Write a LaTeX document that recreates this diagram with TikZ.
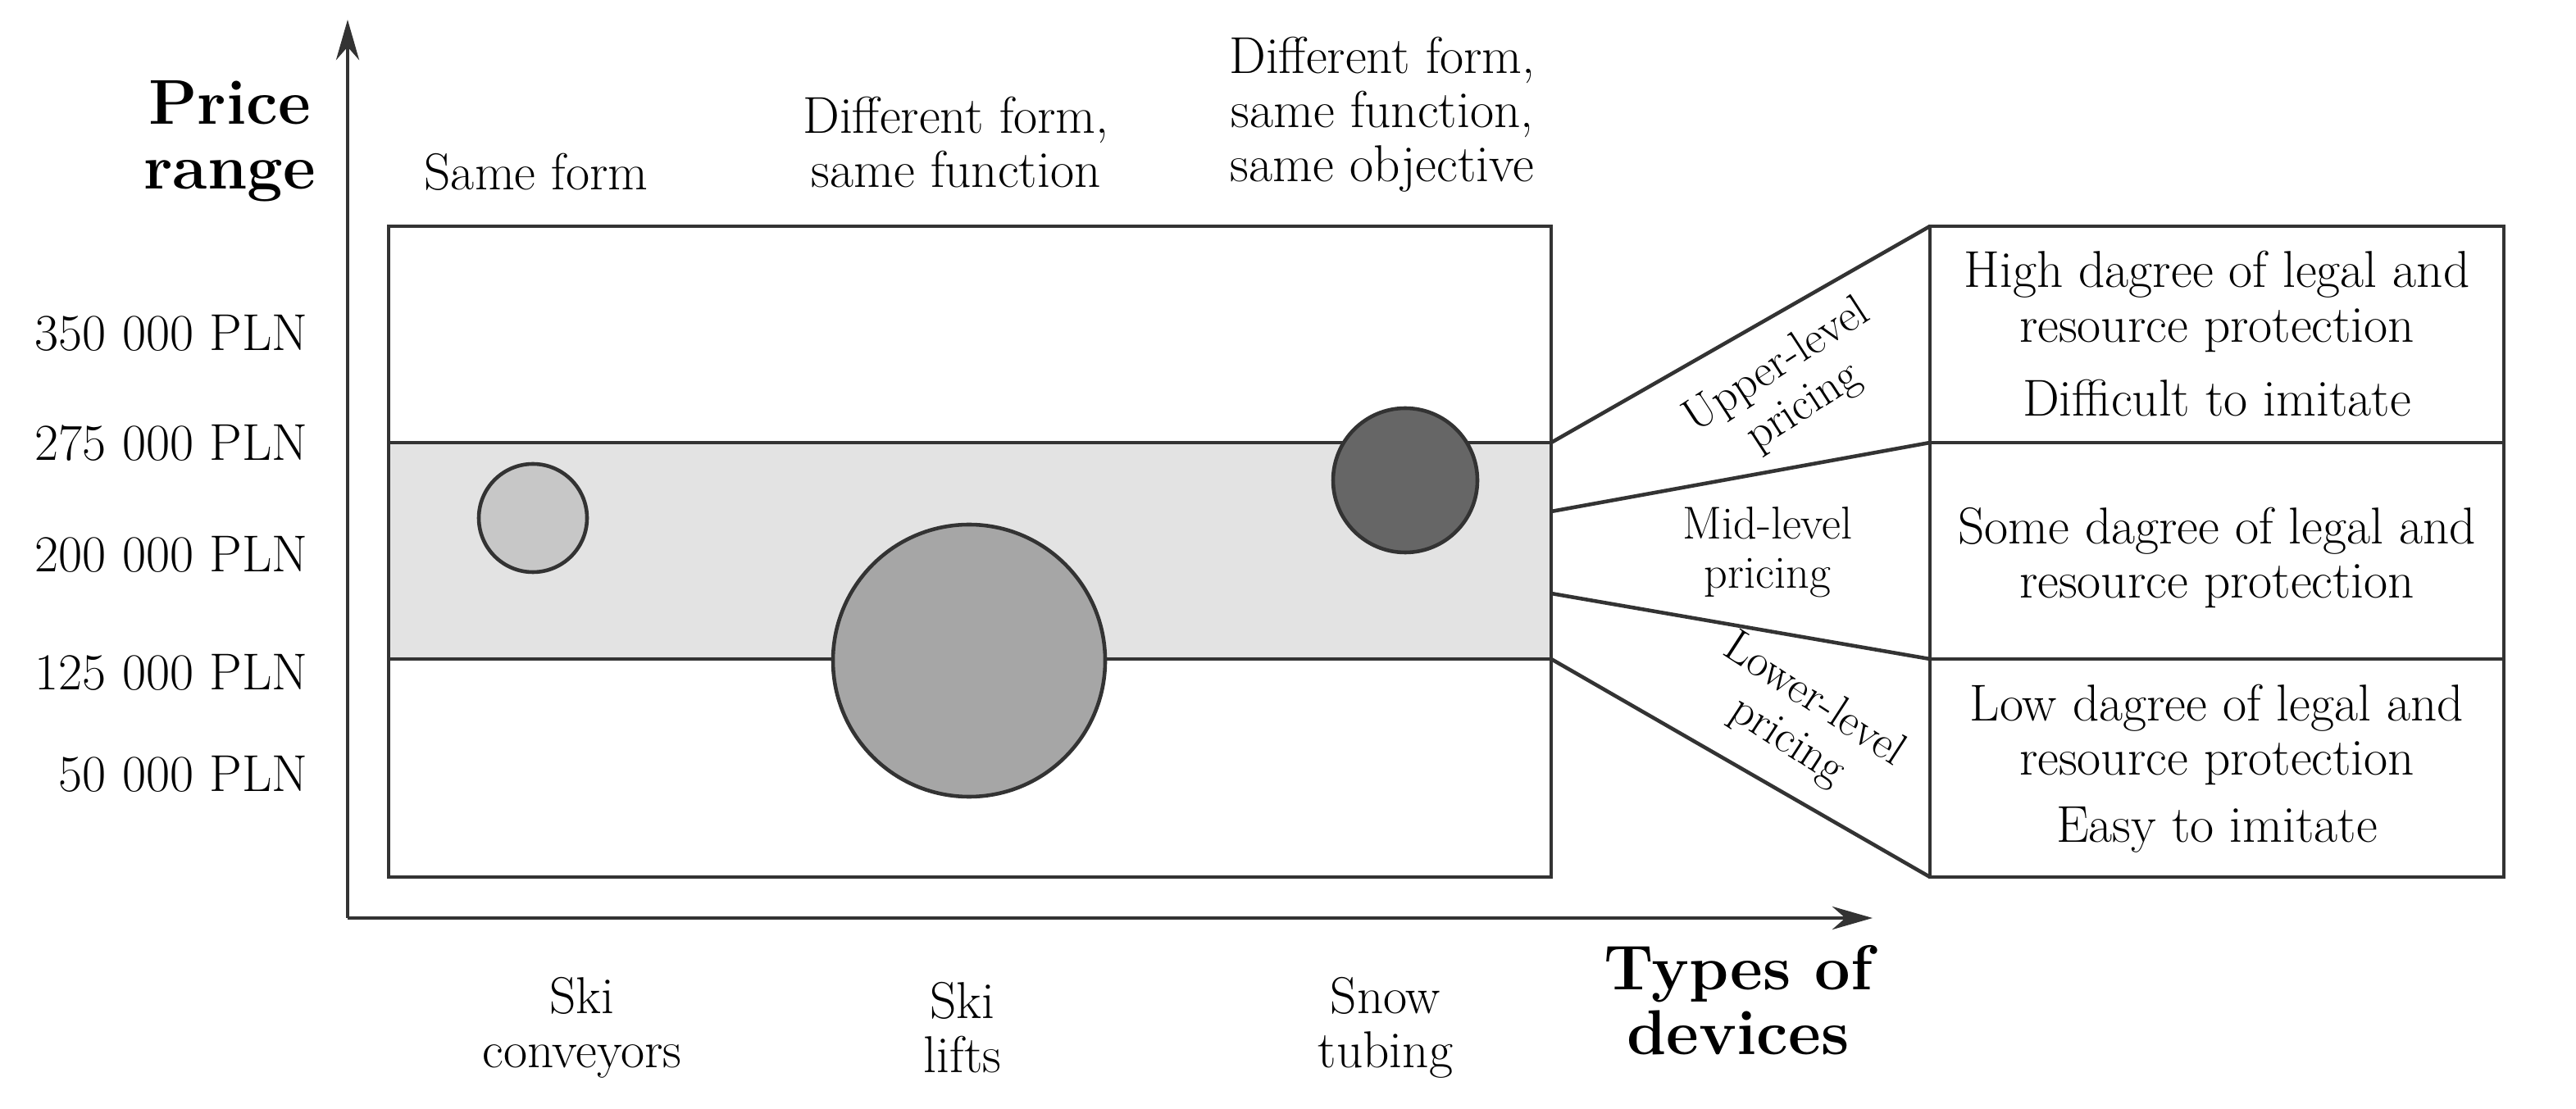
\documentclass[tikz,border=0pt]{standalone}
\usetikzlibrary{arrows.meta}
\begin{document}
\begin{tikzpicture}[x=0.02cm,y=-0.02cm,
  txt/.style={font=\fontsize{18}{18.8}\selectfont,align=center,inner sep=0pt},
  rtxt/.style={font=\fontsize{16}{17}\selectfont,align=center,inner sep=0pt},
  ttl/.style={font=\fontsize{22}{22.5}\selectfont\bfseries,align=center,inner sep=0pt},
  ln/.style={draw=black!80,line width=1.3pt},
  circ/.style={circle,draw=black!80,line width=1.3pt,inner sep=0pt}]
\useasboundingbox (0,0) rectangle (1571,676.5);
\fill[black!11] (237,270) rectangle (946,402);
\draw[ln] (237,138) rectangle (946,535);
\draw[ln] (237,270) -- (946,270);
\draw[ln] (237,402) -- (946,402);
\node[circ,fill=black!22,minimum size=66*0.02cm] (c1) at (325,316) {};
\node[circ,fill=black!35,minimum size=166*0.02cm] (c2) at (591,403) {};
\node[circ,fill=black!60,minimum size=88*0.02cm] (c3) at (857,293) {};
% axes
\coordinate (o) at (212,560);
\coordinate (ytop) at (212,12);
\coordinate (xend) at (1142,560);
\draw[ln,-{Stealth[length=14pt,width=8pt]}] (o) -- (ytop);
\draw[ln,-{Stealth[length=14pt,width=8pt]}] (o) -- (xend);
% right boxes
\draw[ln] (1177,138) rectangle (1527,535);
\draw[ln] (1177,270) -- (1527,270);
\draw[ln] (1177,402) -- (1527,402);
\draw[ln] (946,270) -- (1177,138);
\draw[ln] (946,312) -- (1177,270);
\draw[ln] (946,362) -- (1177,402);
\draw[ln] (946,402) -- (1177,535);
% labels
\node[ttl] (pr) at (140,86) {Price\\range};
\node[ttl] (td) at (1060,610) {Types of\\devices};
\foreach \t/\y in {350 000 PLN/203,275 000 PLN/270,200 000 PLN/338,125 000 PLN/410,50 000 PLN/472}
  \node[txt,anchor=east] at (188,\y) {\t};
\node[txt] (h1) at (327,105) {Same form};
\node[txt] (h2) at (583,87) {Different form,\\same function};
\node[txt] (h3) at (843,70) {Different form,\\same function,\\same objective};
\node[txt] (b1) at (355,627) {Ski\\conveyors};
\node[txt] (b2) at (587,627) {Ski\\lifts};
\node[txt] (b3) at (845,627) {Snow\\tubing};
\node[rtxt,rotate=33] (u) at (1092,236) {Upper-level\\pricing};
\node[rtxt] (m) at (1078,337) {Mid-level\\pricing};
\node[rtxt,rotate=-33] (l) at (1098,440) {Lower-level\\pricing};
\node[txt] (r1) at (1352,184) {High dagree of legal and\\resource protection};
\node[txt] (r1b) at (1352,243) {Difficult to imitate};
\node[txt] (r2) at (1352,340) {Some dagree of legal and\\resource protection};
\node[txt] (r3) at (1352,448) {Low dagree of legal and\\resource protection};
\node[txt] (r3b) at (1352,506) {Easy to imitate};
\end{tikzpicture}
\end{document}
